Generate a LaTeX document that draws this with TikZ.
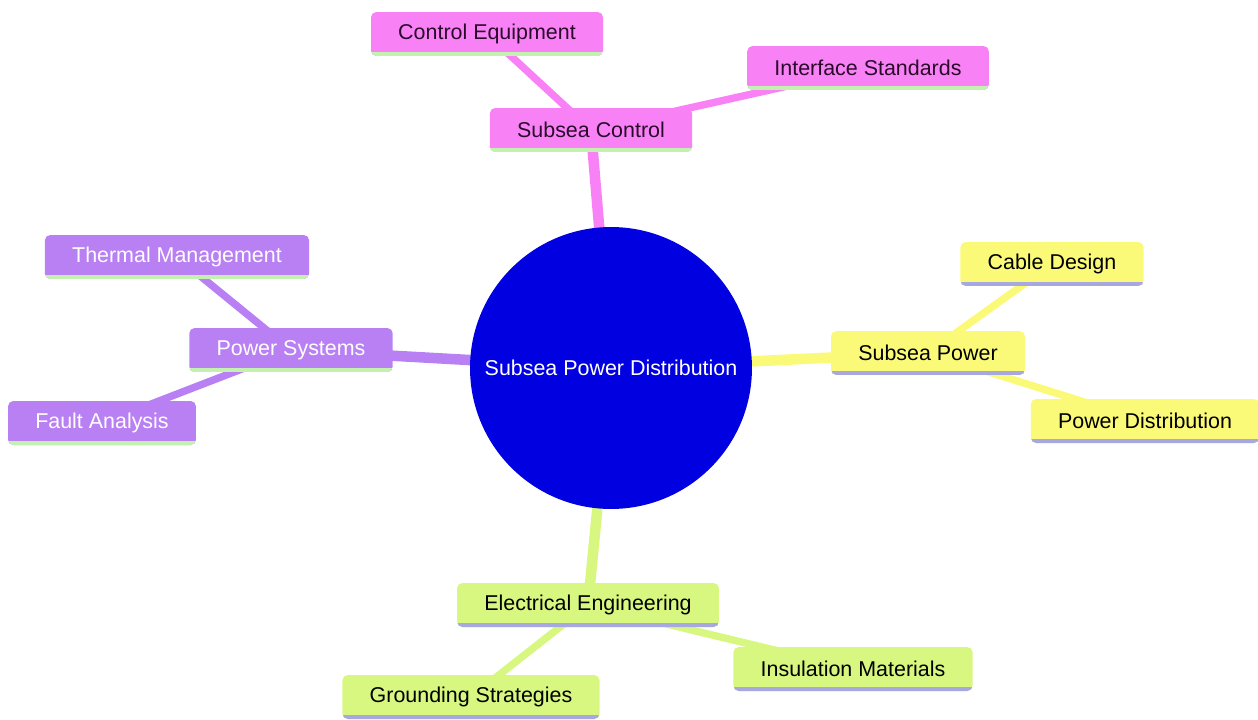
\documentclass[tikz,border=0pt]{standalone}
\usepackage{fontspec}
\setmainfont{Liberation Sans}
\usetikzlibrary{backgrounds}

\definecolor{rootblue}{HTML}{0000E0}
\definecolor{pinkfill}{HTML}{F882F5}
\definecolor{pinktext}{HTML}{2A0A2A}
\definecolor{purplefill}{HTML}{B880F2}
\definecolor{yellowfill}{HTML}{FAFA78}
\definecolor{greenfill}{HTML}{D8F780}
\definecolor{greenline}{HTML}{C4F0B0}
\definecolor{lavline}{HTML}{A8A8E0}

\tikzset{x=0.02cm, y=-0.02cm,
  box/.style={rounded corners=3pt, inner xsep=15.5pt, minimum height=0.88cm,
    font=\fontsize{12.2}{14}\selectfont},
  under/.style={path picture={\draw[line width=4pt, #1]
    (path picture bounding box.south west) -- (path picture bounding box.south east);}},
  pinkbox/.style={box, fill=pinkfill, text=pinktext, under=greenline},
  purplebox/.style={box, fill=purplefill, text=white, under=greenline},
  yellowbox/.style={box, fill=yellowfill, text=black, under=lavline},
  greenbox/.style={box, fill=greenfill, text=black, under=lavline},
  stem/.style={line width=6pt},
  twig/.style={line width=4.2pt}}

\begin{document}
\begin{tikzpicture}
  \useasboundingbox (0,0) rectangle (1258,720);
  \node (root) [circle, fill=rootblue, text=white, minimum size=5.64cm,
    font=\fontsize{12.2}{14}\selectfont] at (611,368) {Subsea Power Distribution};

  \node (ctrl) [pinkbox] at (591,130) {Subsea Control};
  \node (equip) [pinkbox] at (487,34) {Control Equipment};
  \node (iface) [pinkbox] at (868,68) {Interface Standards};

  \node (psys) [purplebox] at (291,350) {Power Systems};
  \node (thermal) [purplebox] at (177,257) {Thermal Management};
  \node (fault) [purplebox] at (102,423) {Fault Analysis};

  \node (spower) [yellowbox] at (928,353) {Subsea Power};
  \node (cable) [yellowbox] at (1052,264) {Cable Design};
  \node (pdist) [yellowbox] at (1145,421) {Power Distribution};

  \node (elec) [greenbox] at (588,605) {Electrical Engineering};
  \node (insul) [greenbox] at (853,669) {Insulation Materials};
  \node (ground) [greenbox] at (471,697) {Grounding Strategies};

  \begin{scope}[on background layer]
    \draw[stem, pinkfill] (root.center) -- (ctrl.center);
    \draw[twig, pinkfill] (ctrl.center) -- (equip.center);
    \draw[twig, pinkfill] (ctrl.center) -- (iface.center);
    \draw[stem, purplefill] (root.center) -- (psys.center);
    \draw[twig, purplefill] (psys.center) -- (thermal.center);
    \draw[twig, purplefill] (psys.center) -- (fault.center);
    \draw[stem, yellowfill] (root.center) -- (spower.center);
    \draw[twig, yellowfill] (spower.center) -- (cable.center);
    \draw[twig, yellowfill] (spower.center) -- (pdist.center);
    \draw[stem, greenfill] (root.center) -- (elec.center);
    \draw[twig, greenfill] (elec.center) -- (insul.center);
    \draw[twig, greenfill] (elec.center) -- (ground.center);
  \end{scope}
\end{tikzpicture}
\end{document}
